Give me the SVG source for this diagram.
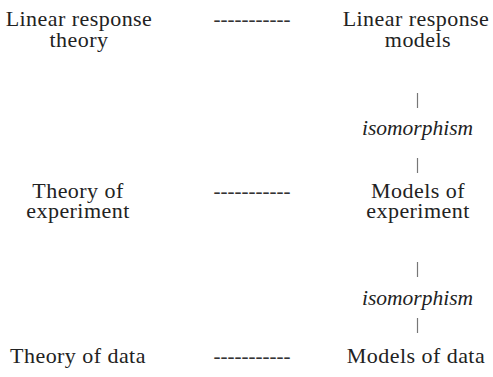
<svg xmlns="http://www.w3.org/2000/svg" width="493" height="377" viewBox="0 0 493 377">
  <style>
    .t { font-family: "Liberation Serif", "Times New Roman", serif; font-size: 22px; fill: #222; text-anchor: middle; letter-spacing: 0.45px; }
    .i { font-style: italic; font-size: 21.5px; letter-spacing: 0; }
    .dash { font-family: "Liberation Serif", "Times New Roman", serif; font-size: 21px; fill: #333; text-anchor: middle; }
    .bar { stroke: #777; stroke-width: 1.2; }
  </style>
  <rect width="493" height="377" fill="#fff"/>

  <g id="linear-response-theory">
    <text class="t" x="79" y="26">Linear response</text>
    <text class="t" x="79" y="47">theory</text>
  </g>
  <g id="linear-response-models">
    <text class="t" x="416" y="26">Linear response</text>
    <text class="t" x="418" y="47">models</text>
  </g>
  <g id="theory-of-experiment">
    <text class="t" x="78" y="198">Theory of</text>
    <text class="t" x="78" y="218">experiment</text>
  </g>
  <g id="models-of-experiment">
    <text class="t" x="418" y="198">Models of</text>
    <text class="t" x="418" y="218">experiment</text>
  </g>
  <g id="theory-of-data">
    <text class="t" x="78" y="363">Theory of data</text>
  </g>
  <g id="models-of-data">
    <text class="t" x="416" y="363">Models of data</text>
  </g>

  <g id="connectors">
    <text class="dash" x="252" y="26">-----------</text>
    <text class="dash" x="252" y="198">-----------</text>
    <text class="dash" x="252" y="363">-----------</text>
    <line class="bar" x1="417.5" y1="93" x2="417.5" y2="108"/>
    <text class="t i" x="417.5" y="135">isomorphism</text>
    <line class="bar" x1="417.5" y1="158" x2="417.5" y2="173"/>
    <line class="bar" x1="417.5" y1="262" x2="417.5" y2="277"/>
    <text class="t i" x="417.5" y="305">isomorphism</text>
    <line class="bar" x1="417.5" y1="318" x2="417.5" y2="333"/>
  </g>
</svg>
